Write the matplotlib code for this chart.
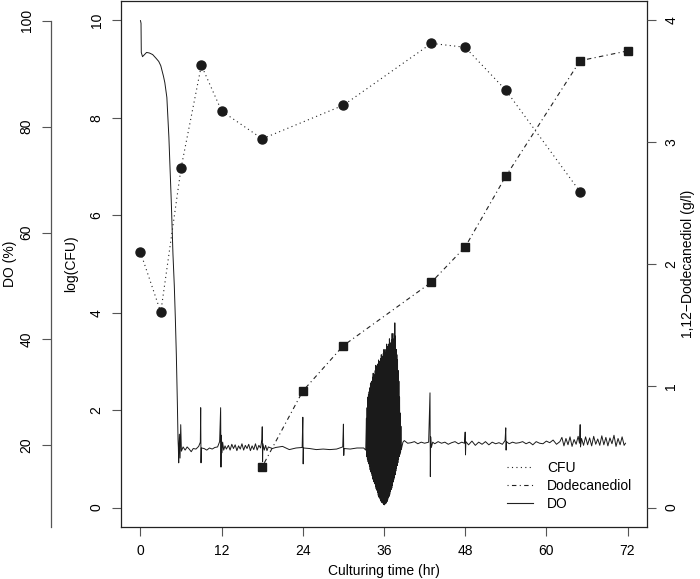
import numpy as np
import matplotlib.pyplot as plt
from matplotlib.lines import Line2D

plt.rcParams['font.family'] = ['Liberation Sans', 'DejaVu Sans']
plt.rcParams['font.size'] = 10

# CFU samples (log scale)
cfu_time = [0, 3, 6, 9, 12, 18, 30, 43, 48, 54, 65]
cfu_log = [5.24, 4.01, 6.97, 9.08, 8.14, 7.57, 8.26, 9.53, 9.45, 8.57, 6.48]

# 1,12-dodecanediol titre (g/l)
dod_time = [18, 24, 30, 43, 48, 54, 65, 72]
dod_gl = [0.335, 0.957, 1.33, 1.85, 2.14, 2.72, 3.67, 3.75]

# DO trace (hr, %)
do_time = [0, 0.08, 0.12, 0.3, 0.6, 0.9, 1.3, 1.8, 2.3, 2.7, 3.0, 3.2, 3.4, 3.6,
           3.9, 4.2, 4.55, 4.8, 5.0, 5.15, 5.3, 5.45, 5.55,
           5.6, 5.65, 5.75, 5.85, 5.95, 6.05, 6.3, 6.6, 6.9, 7.2, 7.5, 7.8, 8.2,
           8.6, 8.85, 8.9, 8.95, 9.0, 9.4, 9.8, 10.2, 10.6, 11.0, 11.4, 11.7,
           11.85, 11.9, 11.95, 12.05, 12.15, 12.3, 12.5, 12.7, 13.0, 13.25, 13.5,
           13.75, 14.0, 14.25, 14.5, 14.75, 15.0, 15.25, 15.5, 15.75, 16.0, 16.25,
           16.5, 16.75, 17.0, 17.25, 17.5, 17.75, 17.95, 18.0, 18.05, 18.1, 18.3,
           18.5, 18.7, 18.9, 19.5, 20.0, 21.0, 22.0, 23.0, 23.9, 24.0, 24.05,
           24.1, 25.0, 26.0, 27.0, 28.0, 29.0, 29.9, 30.0, 30.05, 30.1, 31.0,
           32.0, 33.0, 33.3]
do_pct = [100, 99.5, 94.0, 93.2, 93.6, 94.0, 93.9, 93.6, 92.9, 92.3, 91.5, 90.5, 89.5, 88.3,
          85.5, 78.0, 66.0, 56.0, 50.0, 44.0, 37.0, 28.0, 21.0,
          19.5, 16.6, 22.0, 17.5, 23.8, 18.8, 19.6, 19.0, 19.6, 19.2, 18.7, 19.3, 19.2,
          19.7, 20.5, 27.0, 16.6, 19.4, 19.3, 19.0, 19.4, 19.2, 19.5, 19.6, 20.6,
          27.0, 15.8, 21.8, 18.5, 20.5, 19.0, 19.8, 19.2, 19.9, 19.0, 20.1,
          19.3, 20.0, 18.9, 19.8, 19.2, 20.2, 19.0, 19.9, 19.3, 20.1, 18.9,
          19.8, 19.1, 20.2, 19.0, 19.9, 19.4, 21.0, 23.4, 16.8, 20.2, 19.0,
          19.9, 18.9, 19.6, 19.3, 19.5, 19.7, 19.1, 19.4, 19.5, 25.2, 16.4,
          19.4, 19.3, 19.1, 19.2, 19.1, 19.2, 19.6, 23.9, 18.0, 19.3, 19.2,
          19.4, 19.4, 19.0]

# oscillating stretch around 36 hr: upper and lower envelope of the swings
osc_time = [33.4, 33.6, 33.8, 34.0, 34.2, 34.4, 34.6, 34.8, 35.0, 35.2, 35.4, 35.6,
            35.8, 36.0, 36.2, 36.4, 36.6, 36.8, 37.0, 37.2, 37.4, 37.6, 37.8, 38.0,
            38.2, 38.4, 38.6]
osc_hi = [25.0, 29.0, 30.0, 31.5, 32.0, 33.5, 33.0, 35.0, 34.5, 36.0, 35.5, 37.0,
          36.5, 38.0, 37.0, 39.0, 38.0, 40.0, 38.5, 41.0, 39.0, 43.0, 38.0, 36.0,
          32.0, 26.0, 21.0]
osc_lo = [18.0, 17.0, 16.2, 15.0, 14.5, 13.2, 12.9, 11.8, 11.3, 10.2, 9.9, 9.2,
          9.1, 8.6, 8.9, 9.1, 9.9, 10.4, 11.4, 12.0, 13.3, 14.0, 15.4, 16.3,
          17.6, 18.4, 19.3]

do_time2 = [38.8, 39.0, 39.5, 40.0, 40.5, 41.0, 41.5, 42.0, 42.6, 42.8, 42.85, 42.9,
            43.0, 43.2, 43.5, 44.0, 44.5, 45.0, 45.5, 46.0, 46.5, 47.0, 47.5, 47.9,
            48.0, 48.05, 48.1, 48.5, 49.0, 49.5, 50.0, 50.5, 51.0, 51.5, 52.0, 52.5,
            53.0, 53.5, 53.9, 54.0, 54.05, 54.1, 54.5, 55.0, 55.5, 56.0, 56.5, 57.0,
            57.5, 58.0, 58.5, 59.0, 59.5, 60.0, 60.5, 61.0, 61.5, 62.0, 62.3, 62.6,
            62.9, 63.2, 63.5, 63.8, 64.1, 64.4, 64.7, 64.9, 65.0, 65.05, 65.2, 65.5,
            65.8, 66.1, 66.4, 66.7, 67.0, 67.3, 67.6, 67.9, 68.2, 68.5, 68.8, 69.1,
            69.4, 69.7, 70.0, 70.3, 70.6, 70.9, 71.2, 71.5, 71.7]
do_pct2 = [20.5, 20.8, 20.3, 20.4, 20.6, 20.2, 20.5, 20.3, 20.5, 29.8, 14.0, 21.5,
           19.5, 20.5, 20.2, 20.6, 20.3, 20.5, 20.1, 20.4, 20.6, 20.2, 20.5, 20.3,
           22.4, 18.1, 20.6, 20.0, 20.7, 19.9, 20.5, 20.1, 20.6, 20.0, 20.5, 20.2,
           20.4, 20.1, 20.8, 23.2, 19.0, 20.6, 20.2, 20.5, 20.3, 20.4, 20.6, 20.2,
           20.5, 20.0, 20.6, 20.3, 20.2, 20.7, 20.4, 20.9, 20.1, 20.6, 21.4, 19.8,
           21.2, 20.0, 21.5, 19.7, 21.0, 20.1, 21.6, 20.3, 23.8, 19.6, 21.2, 19.9,
           21.5, 20.0, 21.3, 19.8, 21.6, 20.1, 21.1, 19.9, 21.7, 20.0, 21.4, 19.8,
           21.3, 20.2, 21.8, 19.7, 21.2, 20.0, 21.5, 19.9, 20.3]

# build the oscillation path by switching between the two envelopes
osc_t = []
osc_v = []
for i in range(len(osc_time) - 1):
    t0, t1 = osc_time[i], osc_time[i + 1]
    for k in range(4):
        f = k / 4.0
        osc_t.append(t0 + (t1 - t0) * f)
        hi = osc_hi[i] + (osc_hi[i + 1] - osc_hi[i]) * f
        lo = osc_lo[i] + (osc_lo[i + 1] - osc_lo[i]) * f
        osc_v.append(hi if k % 2 == 0 else lo)
do_t = do_time + osc_t + do_time2
do_v = do_pct + osc_v + do_pct2

fig = plt.figure(figsize=(7, 5.79), dpi=100)
ax = fig.add_axes([121 / 700, 1 - 527 / 579, 526 / 700, 526 / 579])

ax.plot(cfu_time, cfu_log, color='#222222', lw=0.8, linestyle=(0, (1, 3)),
        marker='o', markersize=6.5, markerfacecolor='#1a1a1a', markeredgecolor='#1a1a1a')
ax.set_xlim(-2.88, 74.88)
ax.set_ylim(-0.4, 10.4)
ax.set_xticks(np.arange(0, 73, 12))
ax.set_yticks([0, 2, 4, 6, 8, 10])
ax.set_xlabel('Culturing time (hr)', labelpad=4)
ax.set_ylabel('log(CFU)', labelpad=8)
ax.tick_params(axis='both', direction='out', length=6.5, width=0.8, color='#555555', pad=6)
for lab in ax.get_yticklabels():
    lab.set_rotation(90)
    lab.set_va('center')
for s in ax.spines.values():
    s.set_color('#222222')
    s.set_linewidth(0.9)

ax2 = ax.twinx()
ax2.plot(dod_time, dod_gl, color='#222222', lw=0.8, linestyle=(0, (1, 3, 4, 3)),
         marker='s', markersize=5.5, markerfacecolor='#1a1a1a', markeredgecolor='#1a1a1a')
ax2.set_ylim(-0.16, 4.16)
ax2.set_yticks([0, 1, 2, 3, 4])
ax2.set_ylabel('1,12\u2212Dodecanediol (g/l)', labelpad=2)
ax2.tick_params(axis='y', direction='out', length=6.5, width=0.8, color='#555555', pad=6)
for lab in ax2.get_yticklabels():
    lab.set_rotation(90)
    lab.set_va('center')
for s in ax2.spines.values():
    s.set_visible(False)

ax3 = ax.twinx()
ax3.plot(do_t, do_v, color='#1a1a1a', lw=0.7)
ax3.set_ylim(4.5, 103.7)
ax3.set_yticks([20, 40, 60, 80, 100])
ax3.yaxis.tick_left()
ax3.yaxis.set_label_position('left')
ax3.set_ylabel('DO (%)', labelpad=2)
for name in ['right', 'top', 'bottom']:
    ax3.spines[name].set_visible(False)
ax3.spines['left'].set_position(('outward', 70 * 0.72))
ax3.spines['left'].set_bounds(4.5, 100)
ax3.spines['left'].set_color('#555555')
ax3.spines['left'].set_linewidth(0.9)
ax3.tick_params(axis='y', direction='out', length=6.5, width=0.8, color='#555555', pad=6)
for lab in ax3.get_yticklabels():
    lab.set_rotation(90)
    lab.set_va('center')

handles = [Line2D([], [], color='#222222', lw=0.8, linestyle=(0, (1, 3))),
           Line2D([], [], color='#222222', lw=0.8, linestyle=(0, (1, 3, 4, 3))),
           Line2D([], [], color='#222222', lw=0.8)]
ax3.legend(handles, ['CFU', 'Dodecanediol', 'DO'], loc='upper left',
           bbox_to_anchor=(507 / 700, 1 - 461 / 579), bbox_transform=fig.transFigure,
           frameon=False, borderpad=0, borderaxespad=0, handlelength=1.9,
           handletextpad=1.0, labelspacing=0.3, fontsize=10)

fig.savefig('out.png', dpi=100)
